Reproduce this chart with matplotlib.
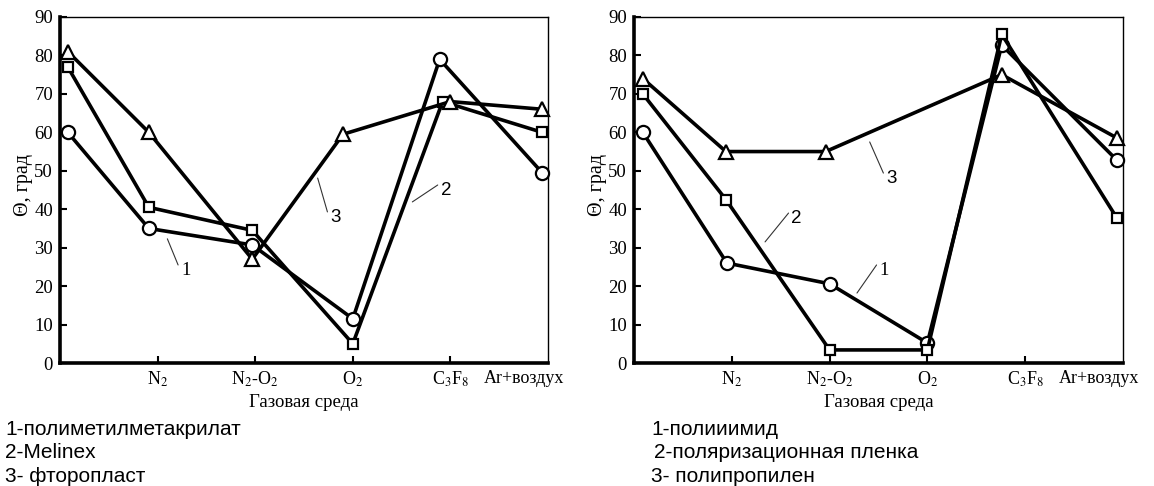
import matplotlib
matplotlib.use("Agg")
import matplotlib.pyplot as plt

plt.rcParams['font.family'] = ['Liberation Serif', 'DejaVu Serif']
plt.rcParams['mathtext.fontset'] = 'stix'

# ---------------- data ----------------
tick_pos = [1, 2, 3, 4, 4.75]
tick_labels = ['N$_2$', 'N$_2$-O$_2$', 'O$_2$', 'C$_3$F$_8$', 'Ar+воздух']

# left panel
L1_x = [0.08, 0.91, 1.97, 3.0, 3.89, 4.94]
L1_y = [60, 35, 30.7, 11.5, 79, 49.5]        # 1 - полиметилметакрилат (circle)
L2_x = [0.08, 0.91, 1.97, 3.0, 3.92, 4.94]
L2_y = [77, 40.5, 34.5, 5, 68, 60]           # 2 - Melinex (square)
L3_x = [0.08, 0.91, 1.97, 2.9, 4.0, 4.94]
L3_y = [81, 60, 27, 59.5, 68, 66]            # 3 - фторопласт (triangle)

# right panel
R1_x = [0.09, 0.95, 2.0, 3.0, 3.76, 4.94]
R1_y = [60, 26, 20.6, 5.2, 82.7, 52.7]       # 1 - полииимид (circle)
R2_x = [0.09, 0.94, 2.0, 3.0, 3.76, 4.94]
R2_y = [70, 42.5, 3.4, 3.4, 85.5, 37.6]      # 2 - поляризационная пленка (square)
R3_x = [0.09, 0.94, 1.96, 3.76, 4.94]
R3_y = [74, 55, 55, 75, 58.5]                # 3 - полипропилен (triangle)

left_legend = ['1-полиметилметакрилат', '2-Melinex', '3- фторопласт']
right_legend = ['1-полииимид', '2-поляризационная пленка', '3- полипропилен']

W, H = 1154, 486
fig = plt.figure(figsize=(W / 100, H / 100), dpi=100)

def px_axes(x0, x1, ytop, ybot):
    return [x0 / W, (H - ybot) / H, (x1 - x0) / W, (ybot - ytop) / H]

axL = fig.add_axes(px_axes(60, 548, 17, 363))
axR = fig.add_axes(px_axes(634, 1123, 17, 363))

mk = dict(color='black', lw=2.6, markerfacecolor='white', markeredgecolor='black',
          markeredgewidth=1.6, clip_on=False, zorder=3)

def style(ax):
    ax.set_xlim(0, 5)
    ax.set_ylim(0, 90)
    ax.set_yticks(range(0, 91, 10))
    ax.set_xticks(tick_pos)
    ax.set_xticklabels(tick_labels)
    ax.xaxis.get_major_ticks()[-1].tick1line.set_visible(False)
    ax.tick_params(direction='in', length=5, width=1.5, pad=5)
    ax.tick_params(axis='y', labelsize=13.5)
    ax.tick_params(axis='x', labelsize=13)
    ax.spines['left'].set_linewidth(2.6)
    ax.spines['bottom'].set_linewidth(2.6)
    ax.spines['top'].set_linewidth(1.0)
    ax.spines['right'].set_linewidth(1.0)
    ax.set_ylabel('Θ, град', fontsize=14.5)
    ax.yaxis.set_label_coords(-0.055, 0.515)
    ax.set_xlabel('Газовая среда', fontsize=13.5, labelpad=3)

for ax in (axL, axR):
    style(ax)

axL.plot(L1_x, L1_y, marker='o', ms=9.5, **mk)
axL.plot(L2_x, L2_y, marker='s', ms=7.5, **mk)
axL.plot(L3_x, L3_y, marker='^', ms=9.5, **mk)

axR.plot(R1_x, R1_y, marker='o', ms=9.5, **mk)
axR.plot(R2_x, R2_y, marker='s', ms=7.5, **mk)
axR.plot(R3_x, R3_y, marker='^', ms=9.5, **mk)

lead = dict(arrowstyle='-', color='#333333', lw=0.8, shrinkA=0, shrinkB=0)

def label(ax, txt, xy, xytext, family='Liberation Serif'):
    ax.annotate('', xy=xy, xytext=xytext, arrowprops=lead)
    ax.text(xytext[0] + 0.03, xytext[1] - 1.5, txt, fontsize=13.5, family=family,
            ha='left', va='center')

label(axL, '1', (1.10, 32.3), (1.21, 25.5))
label(axL, '3', (2.64, 48.1), (2.74, 39.3), family='Liberation Sans')
label(axL, '2', (3.61, 41.9), (3.87, 46.3), family='Liberation Sans')

label(axR, '2', (1.34, 31.5), (1.58, 39.0), family='Liberation Sans')
label(axR, '1', (2.28, 18.2), (2.48, 25.5))
label(axR, '3', (2.41, 57.5), (2.55, 49.4), family='Liberation Sans')

leg_font = ['Liberation Sans', 'DejaVu Sans']
for i, t in enumerate(left_legend):
    fig.text(5 / W, 1 - (429 + 23.5 * i) / H, t, fontsize=15, family=leg_font,
             ha='left', va='center')
right_x = [651, 654, 651]
for i, t in enumerate(right_legend):
    fig.text(right_x[i] / W, 1 - (429 + 23.5 * i) / H, t, fontsize=15, family=leg_font,
             ha='left', va='center')

fig.savefig('out.png', dpi=100)
